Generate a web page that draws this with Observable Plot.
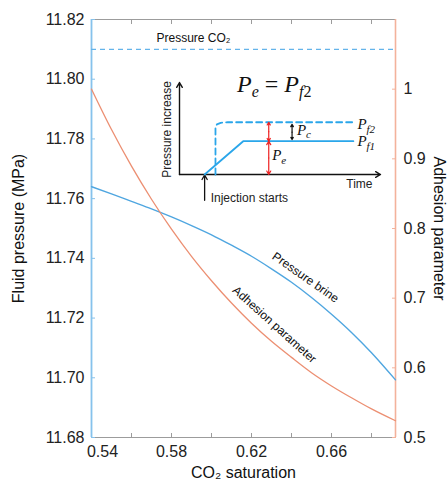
<!DOCTYPE html>
<html><head><meta charset="utf-8">
<script src="https://cdn.jsdelivr.net/npm/d3@7"></script>
<script src="https://cdn.jsdelivr.net/npm/@observablehq/plot@0.6"></script>
<style>
body{margin:0;background:#fff;font-family:"Liberation Sans",Arial,sans-serif;}
#wrap{position:relative;width:448px;height:487px;}
#wrap > svg{position:absolute;left:0;top:0;}
#inset{position:absolute;left:150px;top:70px;width:240px;height:140px;}
#inset svg{display:block;max-width:none;overflow:visible;}
#formula{position:absolute;left:237px;top:71px;font-family:"Liberation Serif","DejaVu Serif",serif;font-size:24px;color:#111;white-space:nowrap;}
#formula sub{font-size:16px;vertical-align:-5px;}
</style></head><body><div id="wrap"></div>
<script>
// ---- main chart data ----
const saturation    = [0.54, 0.55, 0.56, 0.57, 0.58, 0.59, 0.60, 0.61, 0.62, 0.63, 0.64, 0.65, 0.66, 0.67, 0.68, 0.692];
const pressureBrine = [11.764, 11.7616, 11.7591, 11.7566, 11.7539, 11.751, 11.7479, 11.7444, 11.7407, 11.7365, 11.732, 11.7269, 11.7213, 11.7152, 11.7084, 11.6993];
const adhesion      = [1.000, 0.942, 0.8895, 0.842, 0.799, 0.760, 0.725, 0.693, 0.664, 0.638, 0.615, 0.593, 0.574, 0.557, 0.541, 0.524];
const pressureCO2 = 11.81;
const xDomain = [0.54, 0.692];
const leftDomain = [11.68, 11.82];
const rightDomain = [0.5, 1.1];
const xTickLabels = [0.58, 0.62, 0.66];
const xFirstTickLabel = [0.54];
const xMinorTicks = [0.54, 0.56, 0.58, 0.60, 0.62, 0.64, 0.66, 0.68];
const leftTicks = [11.68, 11.70, 11.72, 11.74, 11.76, 11.78, 11.80, 11.82];
const rightTicks = [0.5, 0.6, 0.7, 0.8, 0.9, 1];
// annotation anchors (data coordinates)
const co2Label = {x: 0.5725, y: 11.8138, text: "Pressure CO₂"};
const brineLabel = {x: 0.647, y: 11.7336, text: "Pressure brine", angle: 35};
const adhesionLabel = {x: 0.6315, y: 11.7178, text: "Adhesion parameter", angle: 42};

// ---- inset schematic data ----
const insetAxisX = {x1: 0, y1: 0, x2: 10, y2: 0};
const insetAxisY = {x1: 0, y1: 0, x2: 0, y2: 10};
const injectionTime = 1.25;
const pf1Time = [1.25, 3.17, 8.65];
const pf1Pressure = [0, 3.62, 3.62];
const pf2Time = [1.79, 1.79, 1.86, 2.05, 2.4, 8.7];
const pf2Pressure = [0, 5.05, 5.45, 5.62, 5.68, 5.68];
const peTime = 4.44;
const pcTime = 5.6;
const pcRange = [3.8, 5.45];

const blue = "#4fa6e0", dashBlue = "#64b4ea", blueAxis = "#86c2ec", orange = "#ec8f72", orangeAxis = "#f3b29c", grey = "#9c9c9c";
const insetBlue = "#2aa6ea";

const toLeft = a => leftDomain[0] + (a - rightDomain[0]) * (leftDomain[1] - leftDomain[0]) / (rightDomain[1] - rightDomain[0]);
const fromLeft = v => rightDomain[0] + (v - leftDomain[0]) * (rightDomain[1] - rightDomain[0]) / (leftDomain[1] - leftDomain[0]);

const rows = saturation.map((s, i) => ({s, p: pressureBrine[i], a: adhesion[i]}));
const FS = 16;

const main = Plot.plot({
  width: 448, height: 487,
  marginTop: 19, marginBottom: 50, marginLeft: 91, marginRight: 53,
  style: {fontFamily: "Liberation Sans, Arial, sans-serif", fontSize: "16px", background: "transparent", color: "#222"},
  x: {domain: xDomain},
  y: {domain: leftDomain},
  marks: [
    Plot.ruleY([leftDomain[0], leftDomain[1]], {stroke: grey, strokeWidth: 1}),
    Plot.axisX(xMinorTicks, {anchor: "bottom", tickSize: -4, tickFormat: () => "", label: null, stroke: grey}),
    Plot.axisX(xMinorTicks, {anchor: "top", tickSize: -4, tickFormat: () => "", label: null, stroke: grey}),
    Plot.axisX(xTickLabels, {anchor: "bottom", tickSize: 0, tickPadding: 8, tickFormat: d3.format(".2f"), label: null, fontSize: FS, fill: "#222"}),
    Plot.axisX(xFirstTickLabel, {anchor: "bottom", tickSize: 0, tickPadding: 8, tickFormat: d3.format(".2f"), label: null, fontSize: FS, fill: "#222", dx: 11}),
    Plot.axisY(leftTicks, {anchor: "left", tickSize: -4, tickFormat: () => "", label: null, stroke: blueAxis}),
    Plot.axisY(leftTicks, {anchor: "left", tickSize: 0, tickPadding: 7, tickFormat: d3.format(".2f"), label: null, fontSize: FS, fill: "#222"}),
    Plot.axisY(rightTicks.map(toLeft), {anchor: "right", tickSize: -4, tickFormat: () => "", label: null, stroke: orangeAxis}),
    Plot.axisY(rightTicks.map(toLeft), {anchor: "right", tickSize: 0, tickPadding: 8, tickFormat: d => d3.format("~g")(+fromLeft(d).toFixed(2)), label: null, fontSize: FS, fill: "#222"}),
    Plot.ruleX([xDomain[0]], {stroke: blueAxis, strokeWidth: 1.8}),
    Plot.ruleX([xDomain[1]], {stroke: orangeAxis, strokeWidth: 1.6}),
    Plot.ruleY([pressureCO2], {stroke: dashBlue, strokeWidth: 1.2, strokeDasharray: "5,4"}),
    Plot.line(rows, {x: "s", y: "p", stroke: blue, strokeWidth: 1.4, curve: "monotone-x"}),
    Plot.line(rows, {x: "s", y: d => toLeft(d.a), stroke: orange, strokeWidth: 1.3, curve: "monotone-x"}),
    Plot.text([co2Label], {x: "x", y: "y", text: "text", textAnchor: "start", fontSize: 12, fill: "#111"}),
    Plot.text([brineLabel], {x: "x", y: "y", text: "text", rotate: brineLabel.angle, fontSize: 12, fill: "#111"}),
    Plot.text([adhesionLabel], {x: "x", y: "y", text: "text", rotate: adhesionLabel.angle, fontSize: 12, fill: "#111"}),
    Plot.text(["Fluid pressure (MPa)"], {frameAnchor: "left", textAnchor: "middle", rotate: -90, dx: -73, fontSize: FS, fill: "#111"}),
    Plot.text(["Adhesion parameter"], {frameAnchor: "right", textAnchor: "middle", rotate: 90, dx: 44, fontSize: FS, fill: "#111"}),
    Plot.text(["CO₂ saturation"], {frameAnchor: "bottom", textAnchor: "middle", dy: 40, fontSize: FS, fill: "#111"})
  ]
});

const serif = "Liberation Serif, DejaVu Serif, serif";
const inset = Plot.plot({
  width: 240, height: 140,
  marginTop: 12, marginBottom: 36, marginLeft: 29, marginRight: 10,
  style: {fontFamily: "Liberation Sans, Arial, sans-serif", background: "transparent", overflow: "visible"},
  x: {domain: [0, 10], axis: null},
  y: {domain: [0, 10], axis: null},
  marks: [
    Plot.arrow([insetAxisX, insetAxisY], {x1: "x1", y1: "y1", x2: "x2", y2: "y2", stroke: "#111", strokeWidth: 1.4, headLength: 6}),
    Plot.arrow([{x1: injectionTime, y1: -2.8, x2: injectionTime, y2: -0.05}], {x1: "x1", y1: "y1", x2: "x2", y2: "y2", stroke: "#111", strokeWidth: 1.3, headLength: 6}),
    Plot.line(pf2Time.map((t, i) => ({t, p: pf2Pressure[i]})), {x: "t", y: "p", stroke: insetBlue, strokeWidth: 1.8, strokeDasharray: "6,4", curve: "linear"}),
    Plot.line(pf1Time.map((t, i) => ({t, p: pf1Pressure[i]})), {x: "t", y: "p", stroke: insetBlue, strokeWidth: 1.8}),
    Plot.arrow([
      {x1: peTime, y1: 1.8, x2: peTime, y2: 0},
      {x1: peTime, y1: 1.8, x2: peTime, y2: pf1Pressure[1]},
      {x1: peTime, y1: 4.65, x2: peTime, y2: pf1Pressure[1]},
      {x1: peTime, y1: 4.65, x2: peTime, y2: pf2Pressure[pf2Pressure.length - 1]}
    ], {x1: "x1", y1: "y1", x2: "x2", y2: "y2", stroke: "#ee2222", strokeWidth: 1.2, headLength: 5}),
    Plot.arrow([
      {x1: pcTime, y1: 4.6, x2: pcTime, y2: pcRange[0]},
      {x1: pcTime, y1: 4.6, x2: pcTime, y2: pcRange[1]}
    ], {x1: "x1", y1: "y1", x2: "x2", y2: "y2", stroke: "#111", strokeWidth: 1.2, headLength: 4}),
    Plot.text([{t: 8.85, p: 5.45, m: "P"}, {t: 8.85, p: 3.6, m: "P"}, {t: 5.85, p: 4.85, m: "P"}, {t: 4.62, p: 2.1, m: "P"}],
      {x: "t", y: "p", text: "m", textAnchor: "start", fontFamily: serif, fontStyle: "italic", fontSize: 15, fill: "#111"}),
    Plot.text([{t: 8.85, p: 5.45, m: "f2"}, {t: 8.85, p: 3.6, m: "f1"}, {t: 5.85, p: 4.85, m: "c"}, {t: 4.62, p: 2.1, m: "e"}],
      {x: "t", y: "p", text: "m", textAnchor: "start", dx: 9, dy: 5, fontFamily: serif, fontStyle: "italic", fontSize: 11, fill: "#111"}),
    Plot.text(["Pressure increase"], {x: -0.6, y: 4.9, rotate: -90, fontSize: 12, fill: "#222"}),
    Plot.text(["Time"], {x: 8.95, y: -1.0, fontSize: 12, fill: "#222"}),
    Plot.text(["Injection starts"], {x: injectionTime + 0.3, y: -2.55, textAnchor: "start", fontSize: 12, fill: "#222"})
  ]
});

const wrap = document.getElementById("wrap");
wrap.appendChild(main);
const holder = document.createElement("div");
holder.id = "inset";
holder.appendChild(inset);
wrap.appendChild(holder);
const f = document.createElement("div");
f.id = "formula";
f.innerHTML = "<i>P</i><sub><i>e</i></sub> = <i>P</i><sub><i>f</i>2</sub>";
wrap.appendChild(f);
</script></body></html>
